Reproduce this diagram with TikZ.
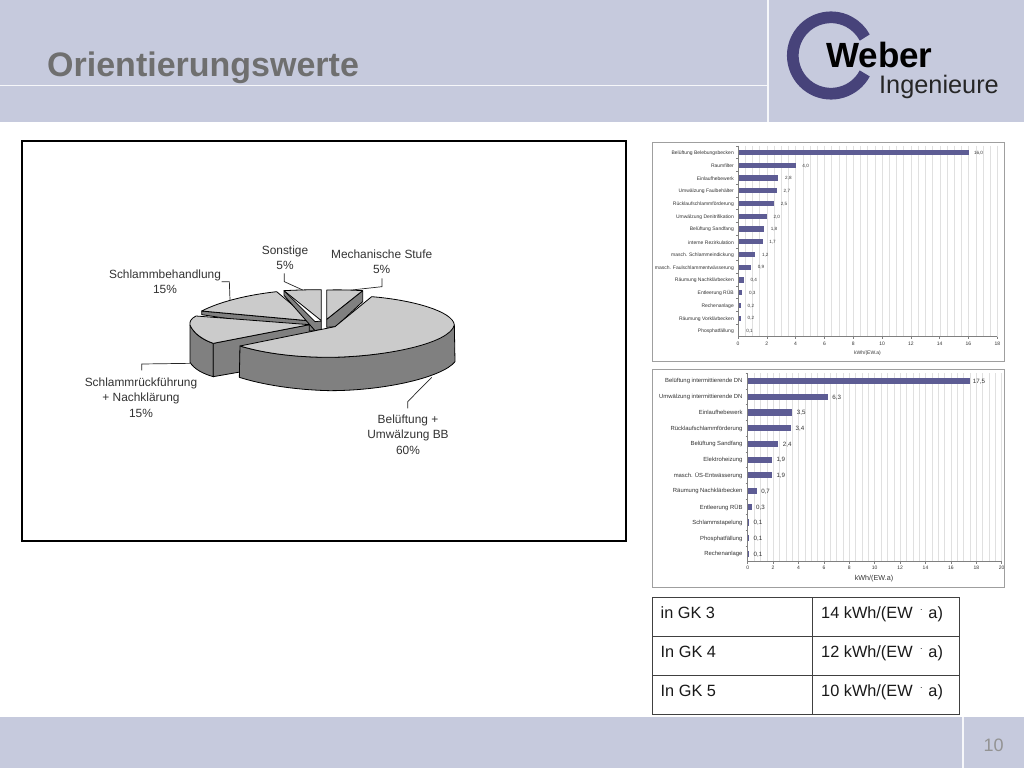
\documentclass[tikz,border=0pt]{standalone}
\usepackage{fontspec}
\setmainfont{Liberation Sans}
\definecolor{band}{HTML}{C6CADD}
\definecolor{ring}{HTML}{47437A}
\definecolor{barc}{HTML}{5D5C94}
\definecolor{pietop}{HTML}{CBCBCB}
\definecolor{pieside}{HTML}{808080}
\definecolor{titlec}{HTML}{6F6F6F}
\definecolor{txt}{HTML}{333333}
\definecolor{gridc}{HTML}{E0E0E0}
\tikzset{
  fs/.style={font=\fontsize{#1}{#1}\selectfont},
  pietopf/.style={fill=pietop,draw=black,line width=.8pt,line join=round},
  piesidef/.style={fill=pieside,draw=black,line width=.8pt,line join=round},
  plabel/.style={fs=11.9,text=txt,align=center,inner sep=0pt},
  leader/.style={draw=black!85,line width=.7pt},
  chartbox/.style={draw=gray!75,line width=1pt},
  axisl/.style={draw=gray,line width=.6pt},
  gridl/.style={draw=gridc,line width=.5pt},
  cell/.style={fs=16.3,text=black!90,anchor=base west,inner sep=0pt},
}
\begin{document}
\begin{tikzpicture}[x=1pt,y=-1pt]
\useasboundingbox (0,0) rectangle (1024,768);
\fill[white] (0,0) rectangle (1024,768);
% header and footer
\fill[band] (0,0) rectangle (1024,122);
\fill[band] (0,717) rectangle (1024,768);
\draw[white!85!band,line width=.9pt] (0,85) -- (768,85);
\draw[white!85!band,line width=1.2pt] (768,0) -- (768,122);
\draw[white!85!band,line width=1.2pt] (963,717) -- (963,768);
\node[font=\fontsize{34}{34}\selectfont\bfseries,text=titlec,anchor=base west,inner sep=0pt] (title) at (47,76) {Orientierungswerte};
\node[fs=18,text=gray!85,inner sep=0pt] (pageno) at (993.5,745) {10};
% logo
\draw[ring,line width=11.7pt] (831,55.5) ++(28:38.2) arc[start angle=28,end angle=332,radius=38.2];
\node[font=\fontsize{35}{35}\selectfont\bfseries,text=black,anchor=base west,inner sep=0pt] (weber) at (826,67) {Weber};
\node[fs=25.3,text=black!85,anchor=base west,inner sep=0pt] (ing) at (879,93.5) {Ingenieure};
% pie frame
\draw[black,line width=1.5pt] (22,141) rectangle (626,541);
% pie
\begin{scope}[shift={(180,240)},x=.33333pt,y=-.33333pt]
  % Schlammbehandlung
  \filldraw[piesidef] (65,213) -- (395,243) -- (404,272) -- (388,272) -- (65,224) -- cycle;
  \filldraw[pietopf] (65,213) .. controls (120,185) and (200,165) .. (290,155) -- (395,243) -- cycle;
  % Schlammrueckfuehrung
  \filldraw[piesidef] (30,255) .. controls (45,285) and (70,300) .. (100,310) -- (100,410) .. controls (70,402) and (42,387) .. (30,367) -- cycle;
  \filldraw[piesidef] (100,310) -- (388,254) -- (388,285) -- (180,330) -- (180,396) -- (100,410) -- cycle;
  \filldraw[pietopf] (48,228) .. controls (32,236) and (28,246) .. (30,255) .. controls (40,280) and (70,300) .. (100,310) -- (388,254) -- cycle;
  % Sonstige
  \filldraw[piesidef] (312,152) -- (405,245) -- (424,243) -- (424,268) -- (405,272) -- (312,166) -- cycle;
  \filldraw[pietopf] (312,152) .. controls (350,150) and (390,149) .. (424,149) -- (424,242) -- cycle;
  % Mechanische Stufe
  \filldraw[piesidef] (548,152) -- (548,185) -- (467,260) -- (440,262) -- (440,238) -- cycle;
  \filldraw[pietopf] (440,150) .. controls (480,149) and (515,150) .. (548,152) -- (440,238) -- cycle;
  % Belueftung
  \filldraw[piesidef] (180,318) .. controls (270,345) and (380,352) .. (450,352) .. controls (620,350) and (790,310) .. (823,255) -- (825,365) .. controls (790,410) and (620,452) .. (450,452) .. controls (350,450) and (250,435) .. (178,412) -- cycle;
  \filldraw[pietopf] (575,170) .. controls (700,180) and (820,215) .. (823,255) .. controls (810,310) and (620,350) .. (450,352) .. controls (370,352) and (270,345) .. (180,318) -- (465,260) -- cycle;
  % leader anchors
  \coordinate (lsonst) at (313,100);
  \coordinate (lsonst1) at (313,125);
  \coordinate (lsonst2) at (368,150);
  \coordinate (lmech) at (606,115);
  \coordinate (lmech1) at (606,140);
  \coordinate (lmech2) at (515,150);
  \coordinate (lbeh) at (125,125);
  \coordinate (lbeh1) at (148,125);
  \coordinate (lbeh2) at (150,180);
  \coordinate (lrue) at (-115,391);
  \coordinate (lrue1) at (-115,372);
  \coordinate (lrue2) at (30,370);
  \coordinate (lbel) at (683,505);
  \coordinate (lbel1) at (683,485);
  \coordinate (lbel2) at (755,412);
\end{scope}
\node[plabel] (sonstige) at (285,257.5) {Sonstige\\[3.4pt]5\%};
\node[plabel] (mech) at (381.7,262) {Mechanische Stufe\\[3.4pt]5\%};
\node[plabel] (sbeh) at (165,282) {Schlammbehandlung\\[3.4pt]15\%};
\node[plabel] (srue) at (141,397.5) {Schlammrückführung\\[3.4pt]+ Nachklärung\\[3.4pt]15\%};
\node[plabel] (belu) at (408,434.5) {Belüftung +\\[3.4pt]Umwälzung BB\\[3.4pt]60\%};
\draw[leader] (lsonst) -- (lsonst1) -- (lsonst2);
\draw[leader] (lmech) -- (lmech1) -- (lmech2);
\draw[leader] (lbeh) -- (lbeh1) -- (lbeh2);
\draw[leader] (lrue) -- (lrue1) -- (lrue2);
\draw[leader] (lbel) -- (lbel1) -- (lbel2);
% chart 1
\draw[chartbox] (652.5,142.5) rectangle (1004,361);
\foreach \g in {1,...,36} \draw[gridl] ({738+\g*7.205},145.7) -- ({738+\g*7.205},336.7);
\foreach \n/\v/\l [count=\i] in {
  {Belüftung Belebungsbecken}/16.0/{16,0},
  {Raumfilter}/4.0/{4,0},
  {Einlaufhebewerk}/2.8/{2,8},
  {Umwälzung Faulbehälter}/2.7/{2,7},
  {Rücklaufschlammförderung}/2.5/{2,5},
  {Umwälzung Denitrifikation}/2.0/{2,0},
  {Belüftung Sandfang}/1.8/{1,8},
  {interne Rezirkulation}/1.7/{1,7},
  {masch. Schlammeindickung}/1.2/{1,2},
  {masch. Faulschlammentwässerung}/0.9/{0,9},
  {Räumung Nachklärbecken}/0.4/{0,4},
  {Entleerung RÜB}/0.3/{0,3},
  {Rechenanlage}/0.2/{0,2},
  {Räumung Vorklärbecken}/0.2/{0,2},
  {Phosphatfällung}/0.1/{0,1}} {
  \fill[barc] (738,{152.6+(\i-1)*12.74-2.6}) rectangle ({738+\v*14.41},{152.6+(\i-1)*12.74+2.6});
  \node[fs=5,text=txt,anchor=east,inner sep=0pt] (a\i) at (734,{153.2+(\i-1)*12.74}) {\n};
  \node[fs=4.6,text=txt,inner sep=0pt] (av\i) at ({738+\v*14.41+10},{153+(\i-1)*12.74}) {\l};
  \draw[axisl] (736,{145.9+(\i-1)*12.74}) -- (738,{145.9+(\i-1)*12.74});
}
\draw[axisl] (738,145.7) -- (738,336.7) -- (997.3,336.7);
\foreach \t in {0,2,...,18} {
  \draw[axisl] ({738+\t*14.405},336.7) -- ({738+\t*14.405},338.7);
  \node[fs=5,text=txt,inner sep=0pt] (at\t) at ({738+\t*14.405},344) {\t};
}
\node[fs=5,text=txt,inner sep=0pt] (atitle) at (867.5,353.3) {kWh/(EW.a)};
% chart 2
\draw[chartbox] (652.5,369) rectangle (1004,587.5);
\foreach \g in {1,...,40} \draw[gridl] ({747.7+\g*6.35},373) -- ({747.7+\g*6.35},561.7);
\foreach \n/\v/\l [count=\i] in {
  {Belüftung intermittierende DN}/17.5/{17,5},
  {Umwälzung intermittierende DN}/6.3/{6,3},
  {Einlaufhebewerk}/3.5/{3,5},
  {Rücklaufschlammförderung}/3.4/{3,4},
  {Belüftung Sandfang}/2.4/{2,4},
  {Elektroheizung}/1.9/{1,9},
  {masch. ÜS-Entwässerung}/1.9/{1,9},
  {Räumung Nachklärbecken}/0.7/{0,7},
  {Entleerung RÜB}/0.3/{0,3},
  {Schlammstapelung}/0.1/{0,1},
  {Phosphatfällung}/0.1/{0,1},
  {Rechenanlage}/0.1/{0,1}} {
  \fill[barc] (747.7,{381+(\i-1)*15.73-3.1}) rectangle ({747.7+\v*12.7},{381+(\i-1)*15.73+3.1});
  \node[fs=5.9,text=txt,anchor=east,inner sep=0pt] (b\i) at (742.7,{381.3+(\i-1)*15.73}) {\n};
  \node[fs=6.2,text=txt,inner sep=0pt] (bv\i) at ({747.7+\v*12.7+9},{381.5+(\i-1)*15.73}) {\l};
  \draw[axisl] (745.7,{373.2+(\i-1)*15.73}) -- (747.7,{373.2+(\i-1)*15.73});
}
\draw[axisl] (747.7,373) -- (747.7,561.7) -- (1001.7,561.7);
\foreach \t in {0,2,...,20} {
  \draw[axisl] ({747.7+\t*12.7},561.7) -- ({747.7+\t*12.7},563.7);
  \node[fs=5,text=txt,inner sep=0pt] (bt\t) at ({747.7+\t*12.7},568) {\t};
}
\node[fs=7.2,text=txt,inner sep=0pt] (btitle) at (874,579) {kWh/(EW.a)};
% table
\draw[black!75,line width=1pt] (652.5,597.5) rectangle (959.5,714.5);
\draw[black!75,line width=1pt] (652.5,636.5) -- (959.5,636.5);
\draw[black!75,line width=1pt] (652.5,675) -- (959.5,675);
\draw[black!75,line width=1pt] (812.5,597.5) -- (812.5,714.5);
\newcommand{\unitdot}{\hspace{3pt}\raisebox{7.5pt}{\fontsize{9}{9}\selectfont .}\hspace{1.2pt}}
\node[cell] (c1) at (660.5,618) {in GK 3};
\node[cell] (d1) at (821,618) {14 kWh/(EW \unitdot{} a)};
\node[cell] (c2) at (660.5,657) {In GK 4};
\node[cell] (d2) at (821,657) {12 kWh/(EW \unitdot{} a)};
\node[cell] (c3) at (660.5,696) {In GK 5};
\node[cell] (d3) at (821,696) {10 kWh/(EW \unitdot{} a)};
\end{tikzpicture}
\end{document}
